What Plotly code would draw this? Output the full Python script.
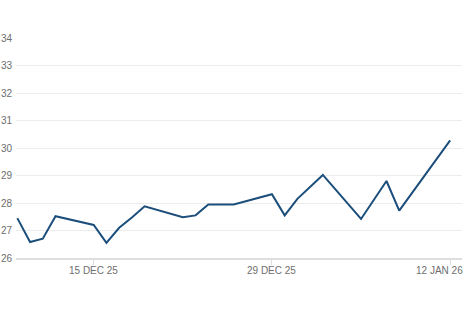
import plotly.graph_objects as go

dates = ["2025-12-09", "2025-12-10", "2025-12-11", "2025-12-12", "2025-12-15",
         "2025-12-16", "2025-12-17", "2025-12-18", "2025-12-19", "2025-12-22",
         "2025-12-23", "2025-12-24", "2025-12-26", "2025-12-29", "2025-12-30",
         "2025-12-31", "2026-01-02", "2026-01-05", "2026-01-07", "2026-01-08",
         "2026-01-12"]
values = [27.45, 26.58, 26.70, 27.52, 27.20,
          26.55, 27.10, 27.47, 27.88, 27.48,
          27.55, 27.95, 27.95, 28.32, 27.55,
          28.15, 29.02, 27.42, 28.80, 27.72,
          30.28]

x_tick_vals = ["2025-12-15", "2025-12-29", "2026-01-12"]
x_tick_text = ["15 DEC 25", "29 DEC 25", "12 JAN 26"]
y_tick_vals = [26, 27, 28, 29, 30, 31, 32, 33, 34]

label_color = "#6e6e6e"

fig = go.Figure()
fig.add_trace(go.Scatter(
    x=dates, y=values, mode="lines",
    line=dict(color="#1c4e7c", width=2),
    hoverinfo="skip",
))

# x tick labels as annotations so the last one can be nudged inside the frame
for i, (tv, tt) in enumerate(zip(x_tick_vals, x_tick_text)):
    fig.add_annotation(
        x=tv, y=0, xref="x", yref="paper",
        text=tt, showarrow=False,
        xanchor="center", yanchor="top",
        yshift=-5, xshift=(-11 if i == len(x_tick_vals) - 1 else 0),
        font=dict(family="Liberation Sans, Arial, sans-serif", size=10, color=label_color),
    )

fig.update_layout(
    width=468, height=312,
    margin=dict(l=16, r=6, t=38, b=54),
    paper_bgcolor="white", plot_bgcolor="white",
    showlegend=False,
    font=dict(family="Liberation Sans, Arial, sans-serif", size=10, color=label_color),
    xaxis=dict(
        type="date",
        range=["2025-12-08 21:30", "2026-01-12 22:20"],
        tickvals=x_tick_vals, ticktext=["", "", ""],
        showgrid=False, zeroline=False,
        showline=True, linecolor="#dedede", linewidth=2,
        ticks="outside", ticklen=5, tickcolor="#dedede", tickwidth=1,
        automargin=False,
    ),
    yaxis=dict(
        range=[26, 34],
        tickvals=y_tick_vals,
        showgrid=True, gridcolor="#ececec", gridwidth=1,
        zeroline=False, showline=False,
        ticks="", ticklabelstandoff=3,
        automargin=False,
        tickfont=dict(size=10, color=label_color),
    ),
)

fig.write_html("out.html")
